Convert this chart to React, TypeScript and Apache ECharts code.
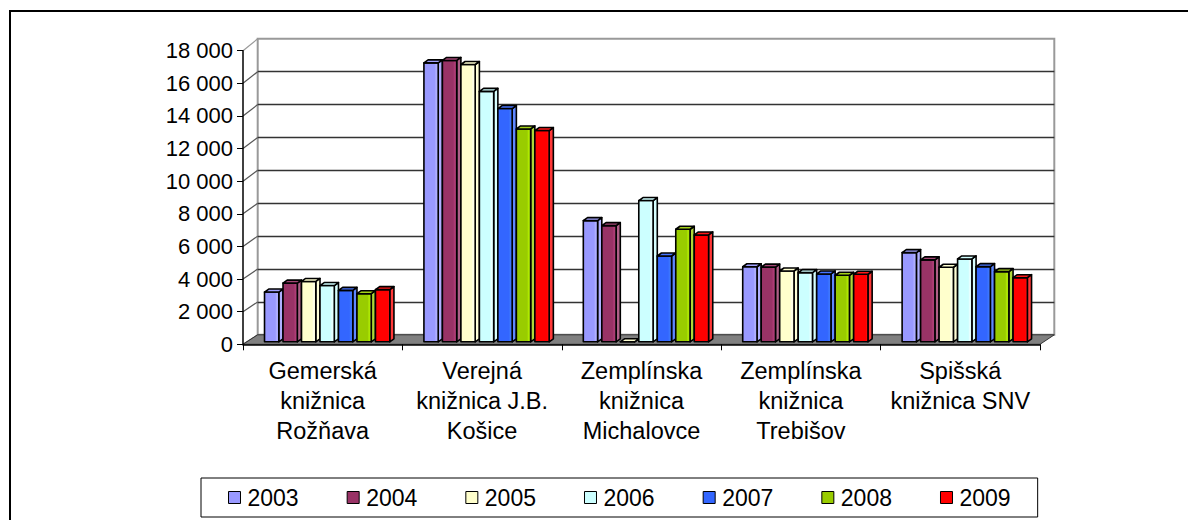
import React, { useEffect, useRef } from "react";
import * as echarts from "echarts";

const categories = [
  "Gemerská\nknižnica\nRožňava",
  "Verejná\nknižnica J.B.\nKošice",
  "Zemplínska\nknižnica\nMichalovce",
  "Zemplínska\nknižnica\nTrebišov",
  "Spišská\nknižnica SNV",
];
const years = ["2003", "2004", "2005", "2006", "2007", "2008", "2009"];
const v2003 = [3050, 17100, 7430, 4600, 5470];
const v2004 = [3600, 17250, 7120, 4580, 5020];
const v2005 = [3700, 17000, 0, 4340, 4570];
const v2006 = [3450, 15350, 8660, 4240, 5080];
const v2007 = [3150, 14300, 5260, 4160, 4610];
const v2008 = [2950, 13050, 6900, 4080, 4300];
const v2009 = [3200, 12950, 6550, 4140, 3930];
const seriesValues = [v2003, v2004, v2005, v2006, v2007, v2008, v2009];
const colors = ["#9999FF", "#993366", "#FFFFCC", "#CCFFFF", "#3366FF", "#99CC00", "#FF0000"];
const yTicks = [0, 2000, 4000, 6000, 8000, 10000, 12000, 14000, 16000, 18000];

const FONT = '"Liberation Sans", Arial, sans-serif';

const fmt = (v: number) => String(v).replace(/\B(?=(\d{3})+(?!\d))/g, " ");

export default function App() {
  const ref = useRef<HTMLDivElement>(null);
  useEffect(() => {
    if (!ref.current) return;
    const chart = echarts.init(ref.current, null, { renderer: "svg" });
    const front = { left: 243, top: 50.7, width: 797, height: 293.6 };
    const back = { left: 257.7, top: 38.8, width: 796.6, height: 296 };
    const dx = 4.2;
    const dy = -3;

    const series: any[] = seriesValues.map((vals, s) => ({
      name: years[s],
      type: "custom",
      xAxisIndex: 1,
      yAxisIndex: 1,
      z: 3,
      itemStyle: { color: colors[s], borderColor: "#000", borderWidth: 1 },
      data: vals.map((v, i) => [i, v]),
      encode: { x: 0, y: 1 },
      renderItem: (params: any, api: any) => {
        const i = api.value(0);
        const v = api.value(1);
        const base = api.coord([i, 0]);
        const top = api.coord([i, v]);
        const band = api.size([1, 0])[0];
        const slot = band * 0.116;
        const fw = slot - dx;
        const x0 = base[0] - band / 2 + band * 0.135 + s * slot;
        const yb = base[1] - 2.5;
        const yt = top[1] - 2.5;
        const c = colors[s];
        const side = echarts.color.lift(c, 0.22);
        const topC = echarts.color.lift(c, 0.1);
        const stroke = { stroke: "#000", lineWidth: 1.6, lineJoin: "round" };
        return {
          type: "group",
          children: [
            {
              type: "polygon",
              shape: { points: [[x0 + fw, yt], [x0 + fw + dx, yt + dy], [x0 + fw + dx, yb + dy], [x0 + fw, yb]] },
              style: { fill: side, ...stroke },
            },
            {
              type: "rect",
              shape: { x: x0, y: yt, width: fw, height: Math.max(0, yb - yt) },
              style: {
                fill: new echarts.graphic.LinearGradient(0, 0, 1, 0, [
                  { offset: 0, color: c },
                  { offset: 0.75, color: c },
                  { offset: 0.85, color: echarts.color.lift(c, -0.15) },
                  { offset: 1, color: echarts.color.lift(c, 0.12) },
                ]),
                ...stroke,
              },
            },
            {
              type: "polygon",
              shape: { points: [[x0, yt], [x0 + dx, yt + dy], [x0 + fw + dx, yt + dy], [x0 + fw, yt]] },
              style: { fill: topC, ...stroke },
            },
          ],
        };
      },
    }));

    chart.setOption({
      animation: false,
      backgroundColor: "#fff",
      textStyle: { fontFamily: FONT },
      grid: [
        {
          ...back,
          show: true,
          borderColor: "#999",
          borderWidth: 2,
          backgroundColor: "transparent",
        },
        { ...front, show: false },
      ],
      xAxis: [
        { gridIndex: 0, type: "category", data: categories, show: false },
        {
          gridIndex: 1,
          type: "category",
          data: categories,
          z: 5,
          axisLine: { show: true, lineStyle: { color: "#000", width: 1.5 } },
          axisTick: { show: true, length: 6, lineStyle: { color: "#000" } },
          axisLabel: {
            interval: 0,
            color: "#000",
            fontSize: 23.5,
            lineHeight: 30,
            margin: 12,
            fontFamily: FONT,
          },
        },
      ],
      yAxis: [
        {
          gridIndex: 0,
          type: "value",
          min: 0,
          max: 18000,
          interval: 2000,
          axisLine: { show: false },
          axisTick: { show: false },
          axisLabel: { show: false },
          splitLine: { show: true, showMinLine: false, showMaxLine: false, lineStyle: { color: "#333", width: 1.3 } },
        },
        {
          gridIndex: 1,
          type: "value",
          min: 0,
          max: 18000,
          interval: 2000,
          z: 5,
          axisLine: { show: true, lineStyle: { color: "#000", width: 1.5 } },
          axisTick: { show: true, length: 6, lineStyle: { color: "#000" } },
          axisLabel: { color: "#000", fontSize: 22, margin: 10, formatter: (v: number) => fmt(v), fontFamily: FONT },
          splitLine: { show: false },
        },
      ],
      legend: {
        data: years,
        left: 201,
        top: 478,
        orient: "horizontal",
        icon: "rect",
        itemWidth: 12,
        itemHeight: 12,
        itemGap: 48,
        padding: [8, 27],
        borderColor: "#000",
        borderWidth: 1,
        itemStyle: { borderColor: "#000", borderWidth: 1 },
        textStyle: { fontSize: 23, color: "#000", fontFamily: FONT, padding: [0, 0, 0, 2] },
      },
      series,
    });

    const yF = (v: number) => chart.convertToPixel({ yAxisIndex: 1 }, v) as number;
    const yB = (v: number) => chart.convertToPixel({ yAxisIndex: 0 }, v) as number;
    const xF0 = front.left;
    const xF1 = front.left + front.width;
    const xB0 = back.left;
    const xB1 = back.left + back.width;

    const graphics: any[] = [];
    yTicks.forEach((t) => {
      graphics.push({
        type: "line",
        z: 1,
        shape: { x1: xF0, y1: yF(t), x2: xB0, y2: yB(t) },
        style: { stroke: t === 18000 ? "#999" : "#555", lineWidth: 1.2 },
      });
    });
    graphics.push({
      type: "polygon",
      z: 2,
      shape: { points: [[xF0, yF(0)], [xB0, yB(0)], [xB1, yB(0)], [xF1, yF(0)]] },
      style: { fill: "#808080", stroke: "#333", lineWidth: 1 },
    });
    graphics.push({
      type: "rect",
      z: 10,
      shape: { x: 10, y: 11, width: 1400, height: 700 },
      style: { fill: "none", stroke: "#000", lineWidth: 2 },
    });
    chart.setOption({ graphic: graphics });

    return () => chart.dispose();
  }, []);
  return <div ref={ref} style={{ position: "absolute", left: 0, top: 0, width: 1188, height: 520 }} />;
}
